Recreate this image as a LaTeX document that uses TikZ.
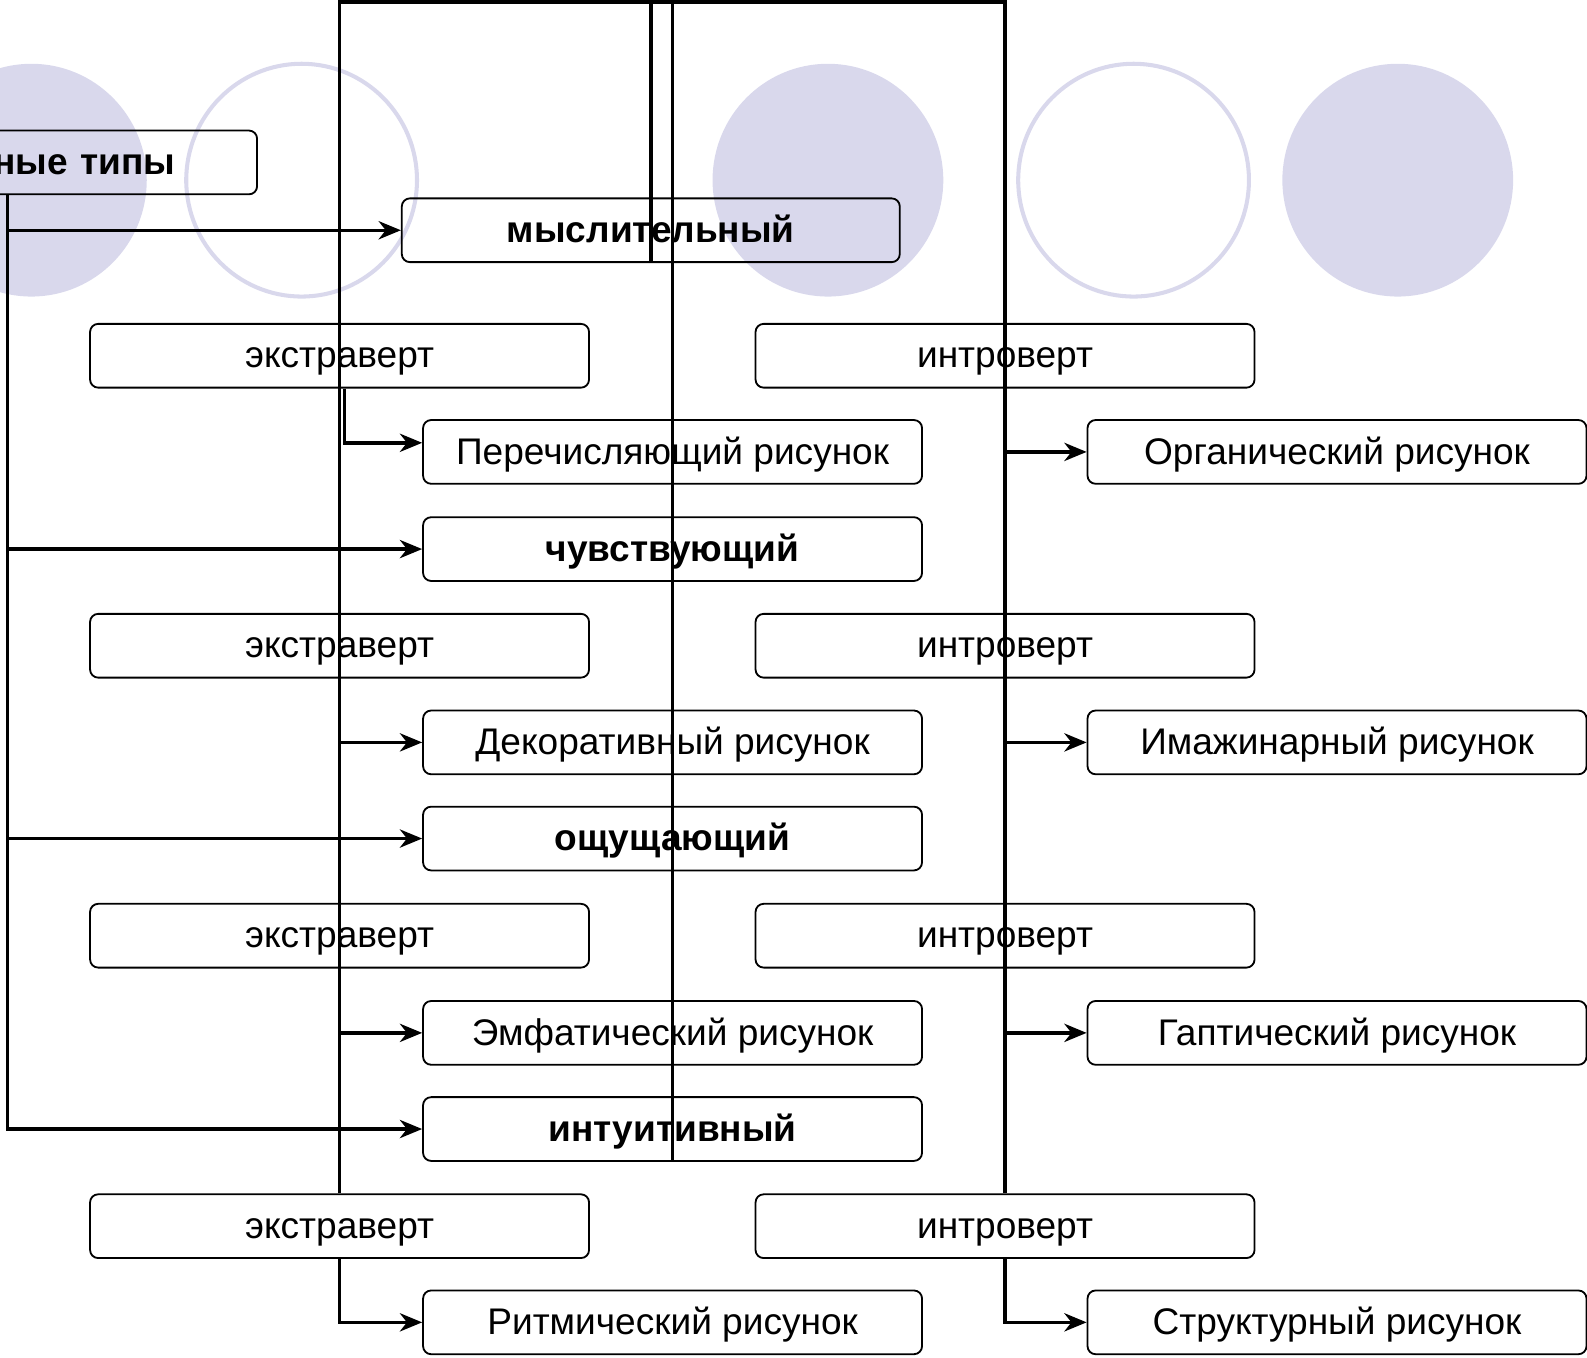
\documentclass[tikz,border=0pt]{standalone}
\usepackage{fontspec}
\setmainfont{Liberation Sans}
\usetikzlibrary{arrows.meta}
\definecolor{lavender}{RGB}{217,216,236}
\tikzset{
  box/.style={draw, rounded corners=8pt, line width=1.8pt, minimum width=493pt, minimum height=63pt, inner sep=0pt, text height=31pt, text depth=7pt, font=\fontsize{36.6}{42}\selectfont},
  boldbox/.style={box, font=\fontsize{36.6}{42}\selectfont\bfseries},
  conn/.style={line width=3.4pt, -{Stealth[length=22pt,width=18pt,inset=7pt]}},
  wire/.style={line width=3.4pt},
  ring/.style={draw=lavender, line width=4pt}
}
\begin{document}
\begin{tikzpicture}[x=1pt, y=-1pt]
        \clip (0,0) rectangle (1568,1341);

        \fill[lavender] (31,178) ellipse [x radius=114pt, y radius=115pt];
        \draw[ring] (298,178) ellipse [x radius=114pt, y radius=115pt];
        \fill[lavender] (818,178) ellipse [x radius=114pt, y radius=115pt];
        \draw[ring] (1120,178) ellipse [x radius=114pt, y radius=115pt];
        \fill[lavender] (1381,178) ellipse [x radius=114pt, y radius=115pt];

        \node[boldbox, text width=331pt, inner xsep=81pt, align=right] (types) at (7.5,160.5) {ные типы};
        \node[boldbox, minimum width=492pt] (think) at (643,227.5) {мыслительный};

        \node[box] (ext1) at (335.5,351.5) {экстраверт};
        \node[box] (intr1) at (993,351.5) {интроверт};
        \node[box] (perech) at (664.5,446.5) {Перечисляющий рисунок};
        \node[box] (organ) at (1321,446.5) {Органический рисунок};
        \node[boldbox] (feel) at (664.5,542.5) {чувствующий};

        \node[box] (ext2) at (335.5,638) {экстраверт};
        \node[box] (intr2) at (993,638) {интроверт};
        \node[box] (dekor) at (664.5,733.5) {Декоративный рисунок};
        \node[box] (imag) at (1321,733.5) {Имажинарный рисунок};
        \node[boldbox] (sense) at (664.5,828.5) {ощущающий};

        \node[box] (ext3) at (335.5,924.5) {экстраверт};
        \node[box] (intr3) at (993,924.5) {интроверт};
        \node[box] (emph) at (664.5,1020.5) {Эмфатический рисунок};
        \node[box] (gapt) at (1321,1020.5) {Гаптический рисунок};
        \node[boldbox] (intuit) at (664.5,1115.5) {интуитивный};

        \node[box] (ext4) at (335.5,1211.5) {экстраверт};
        \node[box] (intr4) at (993,1211.5) {интроверт};
        \node[box] (rit) at (664.5,1306.5) {Ритмический рисунок};
        \node[box] (struct) at (1321,1306.5) {Структурный рисунок};

        \coordinate (top) at (0,2);

        \draw[conn] (types.south) |- (think.west);
        \draw[conn] (types.south) |- (feel.west);
        \draw[conn] (types.south) |- (sense.west);
        \draw[conn] (types.south) |- (intuit.west);

        \draw[wire] (ext4.north) -- (ext4.north |- top) -| (intr4.north);
        \draw[wire] (think.south) -- (think.south |- top);
        \draw[wire] (intuit.south) -- (intuit.south |- top);

        \draw[conn] ([xshift=5pt]ext1.south) |- ([yshift=9pt]perech.west);
        \draw[conn] (ext4.north |- dekor.west) -- (dekor.west);
        \draw[conn] (ext4.north |- emph.west) -- (emph.west);
        \draw[conn] (ext4.south) |- (rit.west);

        \draw[conn] (intr4.north |- organ.west) -- (organ.west);
        \draw[conn] (intr4.north |- imag.west) -- (imag.west);
        \draw[conn] (intr4.north |- gapt.west) -- (gapt.west);
        \draw[conn] (intr4.south) |- (struct.west);
\end{tikzpicture}
\end{document}
